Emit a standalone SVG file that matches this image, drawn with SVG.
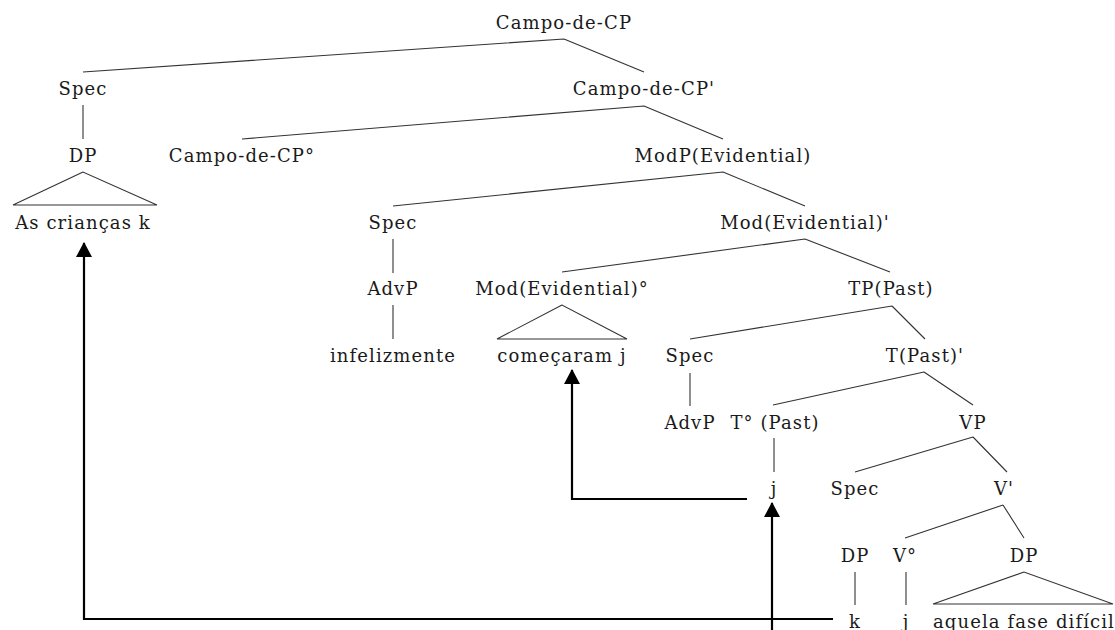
<svg xmlns="http://www.w3.org/2000/svg" width="1115" height="630" viewBox="0 0 1115 630">
  <style>
    text { font-family: "DejaVu Serif", "Liberation Serif", serif; font-size: 18px; letter-spacing: 1.1px; fill: #1a1a1a; text-anchor: middle; }
    .branch { stroke: #333; stroke-width: 1.1; fill: none; }
    .move { stroke: #000; stroke-width: 2.2; fill: none; }
  </style>
  <defs>
    <marker id="head" viewBox="0 0 15 16" refX="14" refY="8" markerWidth="15" markerHeight="16" markerUnits="userSpaceOnUse" orient="auto">
      <path d="M0 0 L15 8 L0 16 Z" fill="#000"/>
    </marker>
  </defs>
  <rect width="1115" height="630" fill="#fff"/>

  <!-- tree branches -->
  <g id="branches" class="branch">
    <path d="M564 39 L83 72 M564 39 L644 72"/>
    <path d="M83 105 L83 139"/>
    <path d="M83 172 L13 205 L157 205 Z"/>
    <path d="M644 106 L242 139 M644 106 L723 139"/>
    <path d="M723 172 L393 206 M723 172 L805 206"/>
    <path d="M393 239 L393 273 M393 305 L393 339"/>
    <path d="M805 239 L562 272 M805 239 L890 272"/>
    <path d="M562 305 L497 339 L627 339 Z"/>
    <path d="M892 306 L690 339 M892 306 L925 339"/>
    <path d="M690 373 L690 406"/>
    <path d="M924 372 L773 405 M924 372 L973 405"/>
    <path d="M774 438 L774 472"/>
    <path d="M973 437 L855 472 M973 437 L1007 472"/>
    <path d="M1003 505 L905 538 M1003 505 L1024 538"/>
    <path d="M855 572 L855 605 M906 572 L906 605"/>
    <path d="M1024 572 L933 604 L1113 604 Z"/>
  </g>

  <!-- movement arrows -->
  <g id="connectors" class="move">
    <path d="M833 619 L84 619 L84 243" marker-end="url(#head)"/>
    <path d="M772 630 L772 503" marker-end="url(#head)"/>
    <path d="M747 499 L572 499 L572 370" marker-end="url(#head)"/>
  </g>

  <g id="n-root"><text x="564" y="28.5">Campo-de-CP</text></g>
  <g id="n-spec1"><text x="83" y="95">Spec</text></g>
  <g id="n-cpbar"><text x="644" y="95">Campo-de-CP'</text></g>
  <g id="n-dp1"><text x="83" y="161.5">DP</text></g>
  <g id="n-cphead"><text x="242" y="161.5">Campo-de-CP°</text></g>
  <g id="n-modp"><text x="723" y="161.5">ModP(Evidential)</text></g>
  <g id="n-criancas"><text x="83" y="228.5">As crianças k</text></g>
  <g id="n-spec2"><text x="393" y="228.5">Spec</text></g>
  <g id="n-modbar"><text x="805" y="228.5">Mod(Evidential)'</text></g>
  <g id="n-advp1"><text x="393" y="295">AdvP</text></g>
  <g id="n-modhead"><text x="562" y="295">Mod(Evidential)°</text></g>
  <g id="n-tp"><text x="891" y="295">TP(Past)</text></g>
  <g id="n-infelizmente"><text x="393" y="361.5">infelizmente</text></g>
  <g id="n-comecaram"><text x="562" y="361.5">começaram j</text></g>
  <g id="n-spec3"><text x="690" y="361.5">Spec</text></g>
  <g id="n-tbar"><text x="925" y="361.5">T(Past)'</text></g>
  <g id="n-advp2"><text x="690" y="428.5">AdvP</text></g>
  <g id="n-thead"><text x="775" y="428.5">T° (Past)</text></g>
  <g id="n-vp"><text x="973" y="428.5">VP</text></g>
  <g id="n-j1"><text x="774" y="495">j</text></g>
  <g id="n-spec4"><text x="855" y="495">Spec</text></g>
  <g id="n-vbar"><text x="1004" y="495">V'</text></g>
  <g id="n-dp2"><text x="855" y="561.5">DP</text></g>
  <g id="n-vhead"><text x="905" y="561.5">V°</text></g>
  <g id="n-dp3"><text x="1024" y="561.5">DP</text></g>
  <g id="n-k"><text x="855" y="628">k</text></g>
  <g id="n-j2"><text x="906" y="628">j</text></g>
  <g id="n-aquela"><text x="1024" y="628">aquela fase difícil</text></g>
</svg>
